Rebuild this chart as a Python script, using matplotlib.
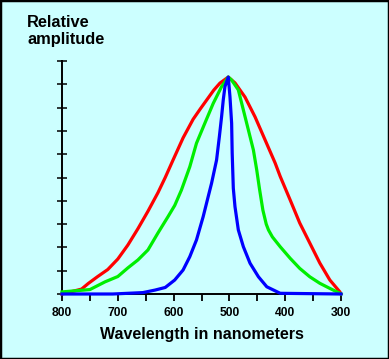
import matplotlib
matplotlib.use("Agg")
import matplotlib.pyplot as plt
from matplotlib.patches import Rectangle

# ---- data (wavelength nm, relative amplitude 0..10) ----
red_wl = [800, 765, 753, 736, 718, 700, 682, 664, 646, 628, 615, 601, 583, 565, 552, 540, 528, 517, 502,
          490, 472, 454, 436, 418, 409, 391, 374, 356, 338, 320, 302, 300]
red_amp = [0.0, 0.21, 0.45, 0.75, 1.05, 1.5, 2.1, 2.8, 3.55, 4.35, 5.0, 5.75, 6.7, 7.5, 7.95, 8.35, 8.75, 9.05, 9.31,
           9.06, 8.45, 7.6, 6.61, 5.62, 5.05, 4.03, 3.05, 2.19, 1.33, 0.6, 0.09, 0.0]

green_wl = [800, 750, 723, 700, 682, 664, 646, 628, 610, 598, 586, 571, 559, 544, 529, 514, 502,
            496, 484, 475, 466, 457, 451, 446, 440, 434, 430, 423, 409, 391, 374, 356, 338, 320, 302, 300]
green_amp = [0.09, 0.19, 0.52, 0.75, 1.12, 1.46, 1.89, 2.62, 3.32, 3.8, 4.46, 5.46, 6.47, 7.33, 8.18, 8.9, 9.31,
             9.18, 8.76, 7.9, 7.04, 6.18, 5.32, 4.5, 3.6, 3.0, 2.75, 2.45, 2.03, 1.53, 1.1, 0.74, 0.46, 0.24, 0.03, 0.0]

blue_wl = [800, 709, 655, 633, 615, 598, 583, 571, 559, 547, 538, 532, 523, 518, 514, 511, 508, 502,
           499, 496, 495, 493, 490, 484, 475, 463, 448, 433, 421, 409, 300]
blue_amp = [0.0, 0.0, 0.06, 0.17, 0.28, 0.6, 1.03, 1.6, 2.32, 3.32, 4.18, 4.75, 5.75, 6.75, 7.61, 8.33, 8.9, 9.31,
            8.47, 7.33, 6.04, 4.54, 3.75, 2.75, 2.03, 1.32, 0.74, 0.31, 0.17, 0.03, 0.0]

xticks = [800, 750, 700, 650, 600, 550, 500, 450, 400, 350, 300]
xticklabels = ["800", "", "700", "", "600", "", "500", "", "400", "", "300"]
yticks = list(range(0, 11))

bg = "#CCFFFF"
W, H = 389, 359
fig = plt.figure(figsize=(W / 100, H / 100), dpi=100, facecolor=bg)
ax = fig.add_axes([62 / W, (H - 294) / H, (341 - 62) / W, (294 - 61) / H])
ax.set_facecolor(bg)

lw = 2.3
ax.plot(red_wl, red_amp, color="#FF0000", lw=lw, clip_on=False, zorder=3)
ax.plot(green_wl, green_amp, color="#00EE00", lw=lw, clip_on=False, zorder=4)
ax.plot(blue_wl, blue_amp, color="#0000FF", lw=lw, clip_on=False, zorder=5)

ax.set_xlim(800, 300)
ax.set_ylim(0, 10)
for s in ["top", "right"]:
    ax.spines[s].set_visible(False)
for s in ["left", "bottom"]:
    ax.spines[s].set_linewidth(1.4)
    ax.spines[s].set_color("black")

ax.set_xticks(xticks)
ax.set_xticklabels(xticklabels, fontsize=8.7, fontweight="bold", family="Liberation Sans")
ax.set_yticks(yticks)
ax.set_yticklabels([])
ax.tick_params(axis="x", direction="out", length=5, width=1.3, pad=4, colors="black")
ax.tick_params(axis="y", direction="inout", length=7, width=1.1, colors="black")

fig.text(27 / W, 1 - 15 / H, "Relative\namplitude", ha="left", va="top",
         fontsize=11.8, fontweight="bold", family="Liberation Sans", linespacing=1.15)
fig.text(202 / W, 1 - 335 / H, "Wavelength in nanometers", ha="center", va="center",
         fontsize=11.5, fontweight="bold", family="Liberation Sans")

fig.patches.append(Rectangle((0, 0), 1, 1, transform=fig.transFigure, fill=False,
                             edgecolor="black", lw=2.5, zorder=10))

fig.savefig("out.png", dpi=100, facecolor=bg)
